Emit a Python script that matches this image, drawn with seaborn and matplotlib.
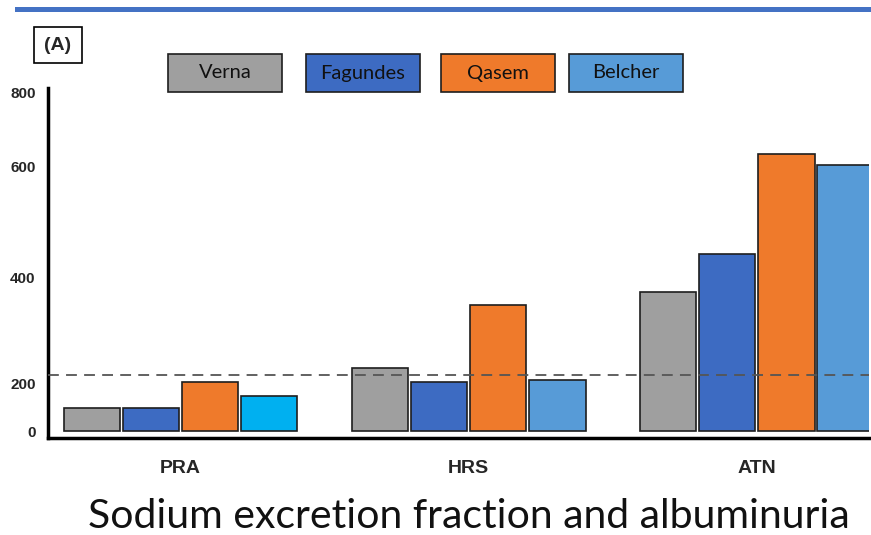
import numpy as np
import pandas as pd
import seaborn as sns
import matplotlib.pyplot as plt
from matplotlib.patches import Rectangle

sns.set_style("white")
plt.rcParams['font.family'] = ['Lato', 'DejaVu Sans']

# data
groups = ["PRA", "HRS", "ATN"]
studies = ["Verna", "Fagundes", "Qasem", "Belcher"]
verna = [96, 229, 373]
fagundes = [96, 202, 443]
qasem = [202, 349, 635]
belcher = [146, 206, 605]
threshold = 215
yticks = [0, 200, 400, 600, 800]

colors = ["#9f9f9f", "#3d6bc2", "#ef7a2b", "#579bd7"]
pra_belcher_color = "#00b0f0"

df = pd.DataFrame({
    "group": groups * 4,
    "study": np.repeat(studies, 3),
    "value": verna + fagundes + qasem + belcher,
})

# the original axis is not linear: piecewise mapping of the tick spacing
knot_vals = [-200, 0, 200, 400, 600, 800, 1000]
knot_pos = [-41, 7, 55, 160, 271, 345, 419]
def fwd(v):
    return np.interp(v, knot_vals, knot_pos)
def inv(p):
    return np.interp(p, knot_pos, knot_vals)

W, H = 871, 535
fig = plt.figure(figsize=(W / 100, H / 100), dpi=100)
ax = fig.add_axes([48 / W, (H - 438) / H, (869 - 48) / W, (438 - 88) / H])

sns.barplot(data=df, x="group", y="value", hue="study", hue_order=studies,
            palette=colors, saturation=1, width=0.82, gap=0.04,
            edgecolor="#1e1e1e", linewidth=1.2, errorbar=None, legend=False, ax=ax)
ax.containers[3][0].set_facecolor(pra_belcher_color)

ax.set_yscale("function", functions=(fwd, inv))
ax.set_ylim(-29, 813)
ax.set_xlim(-0.46, 2.39)
ax.axhline(threshold, color="#555555", lw=1.3, ls=(0, (6, 4)), zorder=5)

ax.set_yticks(yticks)
ax.set_yticklabels([str(t) for t in yticks], fontweight="bold", fontsize=11,
                   family="Liberation Sans")
ax.set_xticks(range(len(groups)))
ax.set_xticklabels(groups, fontweight="bold", fontsize=14, family="Liberation Sans")
ax.tick_params(axis="y", length=0, pad=9)
ax.tick_params(axis="x", length=0, pad=16)
ax.set_xlabel("")
ax.set_ylabel("")
ax.yaxis.set_minor_locator(plt.NullLocator())
for s in ["top", "right"]:
    ax.spines[s].set_visible(False)
for s in ["left", "bottom"]:
    ax.spines[s].set_linewidth(2.5)
    ax.spines[s].set_color("black")

# top blue rule
fig.add_artist(Rectangle((15 / W, (H - 12) / H), (W - 15) / W, 5 / H,
                         transform=fig.transFigure, color="#4472c4", lw=0))

# panel label
fig.add_artist(Rectangle((34 / W, (H - 63) / H), 48 / W, 36 / H, transform=fig.transFigure,
                         facecolor="white", edgecolor="black", lw=1.2))
fig.text(58 / W, (H - 45) / H, "(A)", ha="center", va="center", fontsize=14,
         fontweight="bold", family="Liberation Sans")

# legend boxes
legend_left = [168, 306, 441, 569]
for name, col, x0 in zip(studies, colors, legend_left):
    fig.add_artist(Rectangle((x0 / W, (H - 92) / H), 114 / W, 38 / H,
                             transform=fig.transFigure, facecolor=col,
                             edgecolor="#1e1e1e", lw=1.2))
    fig.text((x0 + 57) / W, (H - 73) / H, name, ha="center", va="center",
             fontsize=14.5, color="#111111")

fig.text(88 / W, (H - 516) / H, "Sodium excretion fraction and albuminuria",
         ha="left", va="center", fontsize=29.5, color="#111111")

fig.savefig("out.png", dpi=100)
